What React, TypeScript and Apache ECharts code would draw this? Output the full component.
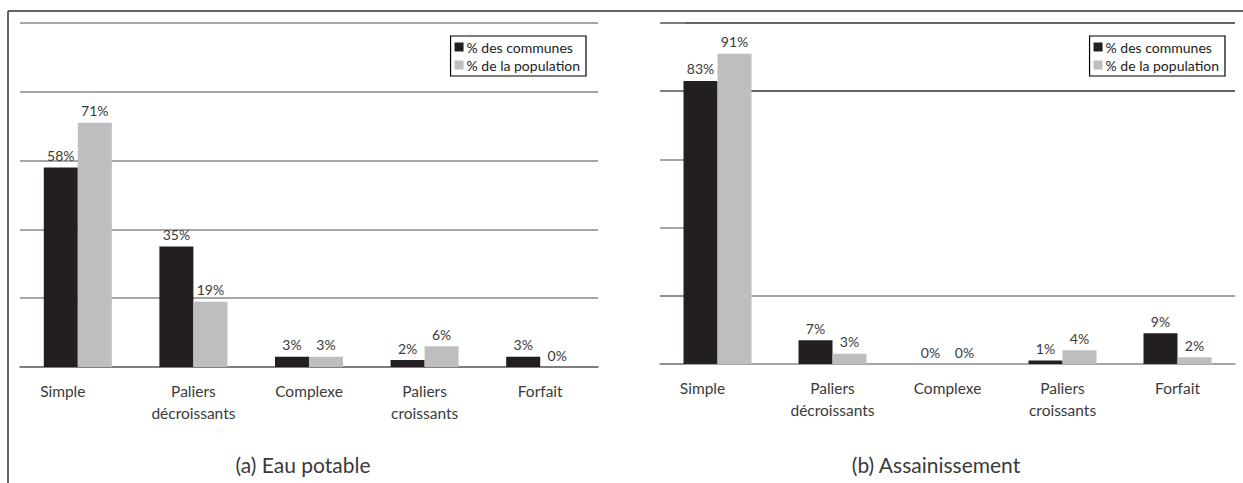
import React, { useEffect, useRef } from "react";
import * as echarts from "echarts";

const categories = ["Simple", "Paliers\ndécroissants", "Complexe", "Paliers\ncroissants", "Forfait"];
const seriesNames = ["% des communes", "% de la population"];
const eauCommunes = [58, 35, 3, 2, 3];
const eauPopulation = [71, 19, 3, 6, 0];
const assCommunes = [83, 7, 0, 1, 9];
const assPopulation = [91, 3, 0, 4, 2];
const panelTitles = ["(a) Eau potable", "(b) Assainissement"];

const FONT = "Lato, 'Open Sans', sans-serif";
const BLACK = "#231f20";
const GREY = "#bcbec0";
const TEXT = "#3a3a3a";

export default function App() {
  const ref = useRef<HTMLDivElement>(null);
  useEffect(() => {
    document.body.style.margin = "0";
    const chart = echarts.init(ref.current!, null, { renderer: "svg" });
    const xAxis = (gridIndex: number, axisColor: string) => ({
      type: "category",
      gridIndex,
      data: categories,
      axisLine: { lineStyle: { color: axisColor, width: 1.5 } },
      axisTick: { length: 5, lineStyle: { color: "#333" } },
      axisLabel: {
        color: TEXT,
        fontFamily: FONT,
        fontSize: 15.5,
        lineHeight: 22,
        margin: 13,
        formatter: (v: string) => (v === "Simple" ? "{s|Simple}" : v),
        rich: { s: { padding: [0, 30, 0, 0], fontFamily: FONT, fontSize: 15.5, color: TEXT } },
      },
    });
    const yAxis = (gridIndex: number, colors: string[], stubs: boolean) => ({
      type: "value",
      gridIndex,
      min: 0,
      max: 100,
      interval: 20,
      axisLabel: { show: false },
      axisLine: { show: false },
      axisTick: stubs
        ? { show: true, inside: true, length: 25, lineStyle: { color: "#888", width: 1.5 } }
        : { show: false },
      splitLine: { show: true, lineStyle: { color: colors, width: 1.5 } },
    });
    const label = {
      show: true,
      position: "top",
      distance: 5,
      color: TEXT,
      fontFamily: FONT,
      fontSize: 14,
      formatter: "{c}%",
    };
    const bar = (name: string, data: number[], color: string, idx: number) => ({
      type: "bar",
      name,
      data,
      xAxisIndex: idx,
      yAxisIndex: idx,
      barWidth: 34,
      barGap: "0%",
      itemStyle: { color },
      label,
    });
    const legend = (right: number) => ({
      orient: "vertical",
      right,
      top: 36,
      data: seriesNames,
      icon: "rect",
      itemWidth: 9,
      itemHeight: 9,
      itemGap: 4,
      padding: [4, 6, 4, 4],
      borderColor: "#000",
      borderWidth: 1.2,
      textStyle: { color: "#222", fontFamily: FONT, fontSize: 14, padding: [0, 0, 0, -2] },
    });
    chart.setOption({
      animation: false,
      backgroundColor: "#fff",
      grid: [
        { left: 20, right: 645, top: 23, bottom: 116 },
        { left: 660, right: 8, top: 23, bottom: 119 },
      ],
      xAxis: [xAxis(0, "#555"), xAxis(1, "#888")],
      yAxis: [
        yAxis(0, ["transparent", "#888", "#888", "#888", "#888", "#888"], false),
        yAxis(1, ["transparent", "#888", "transparent", "transparent", "#333", "#333"], true),
      ],
      legend: [legend(657), legend(18)],
      series: [
        bar(seriesNames[0], eauCommunes, BLACK, 0),
        bar(seriesNames[1], eauPopulation, GREY, 0),
        bar(seriesNames[0], assCommunes, BLACK, 1),
        bar(seriesNames[1], assPopulation, GREY, 1),
      ],
      graphic: [
        { type: "line", shape: { x1: 8, y1: 11, x2: 1243, y2: 11 }, style: { stroke: "#333", lineWidth: 1.5 } },
        { type: "line", shape: { x1: 8, y1: 11, x2: 8, y2: 483 }, style: { stroke: "#333", lineWidth: 1.5 } },
        {
          type: "text",
          x: 303,
          y: 464,
          style: { text: panelTitles[0], fontFamily: FONT, fontSize: 21, fill: TEXT, align: "center", verticalAlign: "middle" },
        },
        {
          type: "text",
          x: 936,
          y: 464,
          style: { text: panelTitles[1], fontFamily: FONT, fontSize: 21, fill: TEXT, align: "center", verticalAlign: "middle" },
        },
      ],
    });
    return () => chart.dispose();
  }, []);
  return <div ref={ref} style={{ width: 1243, height: 483 }} />;
}
